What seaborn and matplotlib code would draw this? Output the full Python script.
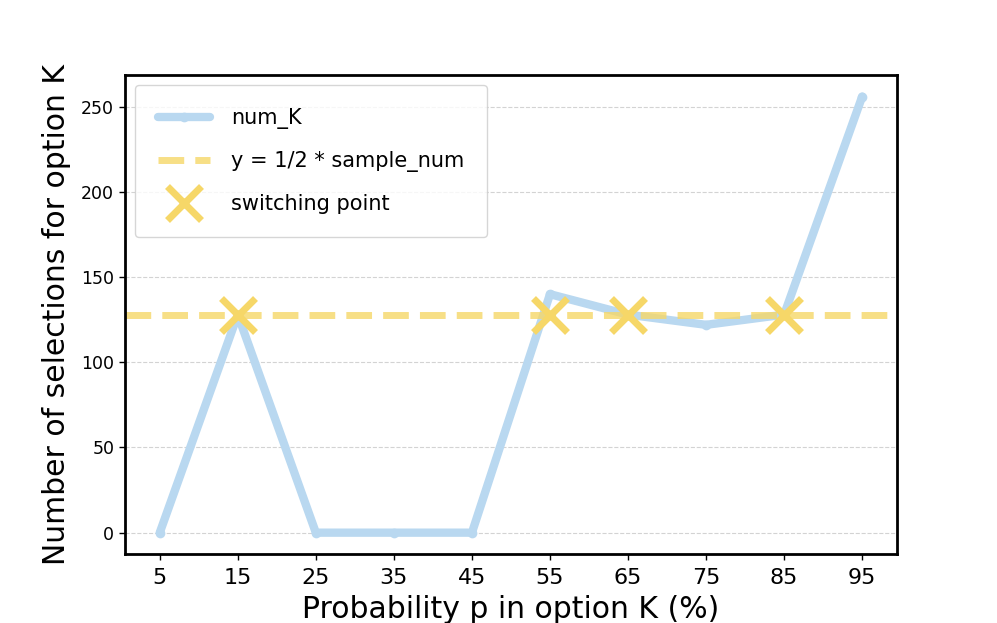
import numpy as np
import pandas as pd
import matplotlib
matplotlib.use("Agg")
import matplotlib.pyplot as plt
import seaborn as sns

# date
prob_p = [5, 15, 25, 35, 45, 55, 65, 75, 85, 95]
num_K = [0, 128, 0, 0, 0, 140, 128, 122, 128, 256]
sample_num = 256
switch_p = [15, 55, 65, 85]
switch_y = [128, 128, 128, 128]

blue = "#b9d8f0"
yellow = "#f6d768"

sns.set_style("white")
plt.rcParams['font.family'] = ['DejaVu Sans']
plt.rcParams['text.color'] = 'black'
plt.rcParams['axes.labelcolor'] = 'black'

fig, ax = plt.subplots(figsize=(9.97, 6.23), dpi=100)

df = pd.DataFrame({"p": prob_p, "num_K": num_K})
sns.lineplot(data=df, x="p", y="num_K", ax=ax, color=blue, linewidth=6,
             marker="o", markersize=7, markeredgewidth=0, label="num_K")

ax.axhline(sample_num / 2, color=yellow, alpha=0.8, linestyle="--", linewidth=5,
           label="y = 1/2 * sample_num")

ax.plot(switch_p, switch_y, linestyle="none", marker="x", markersize=24,
        markeredgewidth=5, color=yellow, label="switching point")

ax.set_xticks(prob_p)
ax.tick_params(axis="x", labelsize=16, pad=6)
ax.tick_params(axis="y", labelsize=12.5)
ax.tick_params(axis="both", which="major", length=4, width=1, colors="black", bottom=True, left=True)
ax.grid(axis="y", linestyle="--", color="#d3d3d3", linewidth=0.8)
ax.set_axisbelow(True)

for s in ax.spines.values():
    s.set_color("black")
    s.set_linewidth(2)

ax.set_xlabel("Probability p in option K (%)", fontsize=21.5, labelpad=5)
ax.set_ylabel("Number of selections for option K", fontsize=21.5, labelpad=7)

ax.legend(loc="upper left", fontsize=15, borderpad=1.1, labelspacing=1.05,
          handlelength=2.5, handletextpad=1.0, frameon=True, fancybox=True)

plt.savefig("out.png", dpi=100)
